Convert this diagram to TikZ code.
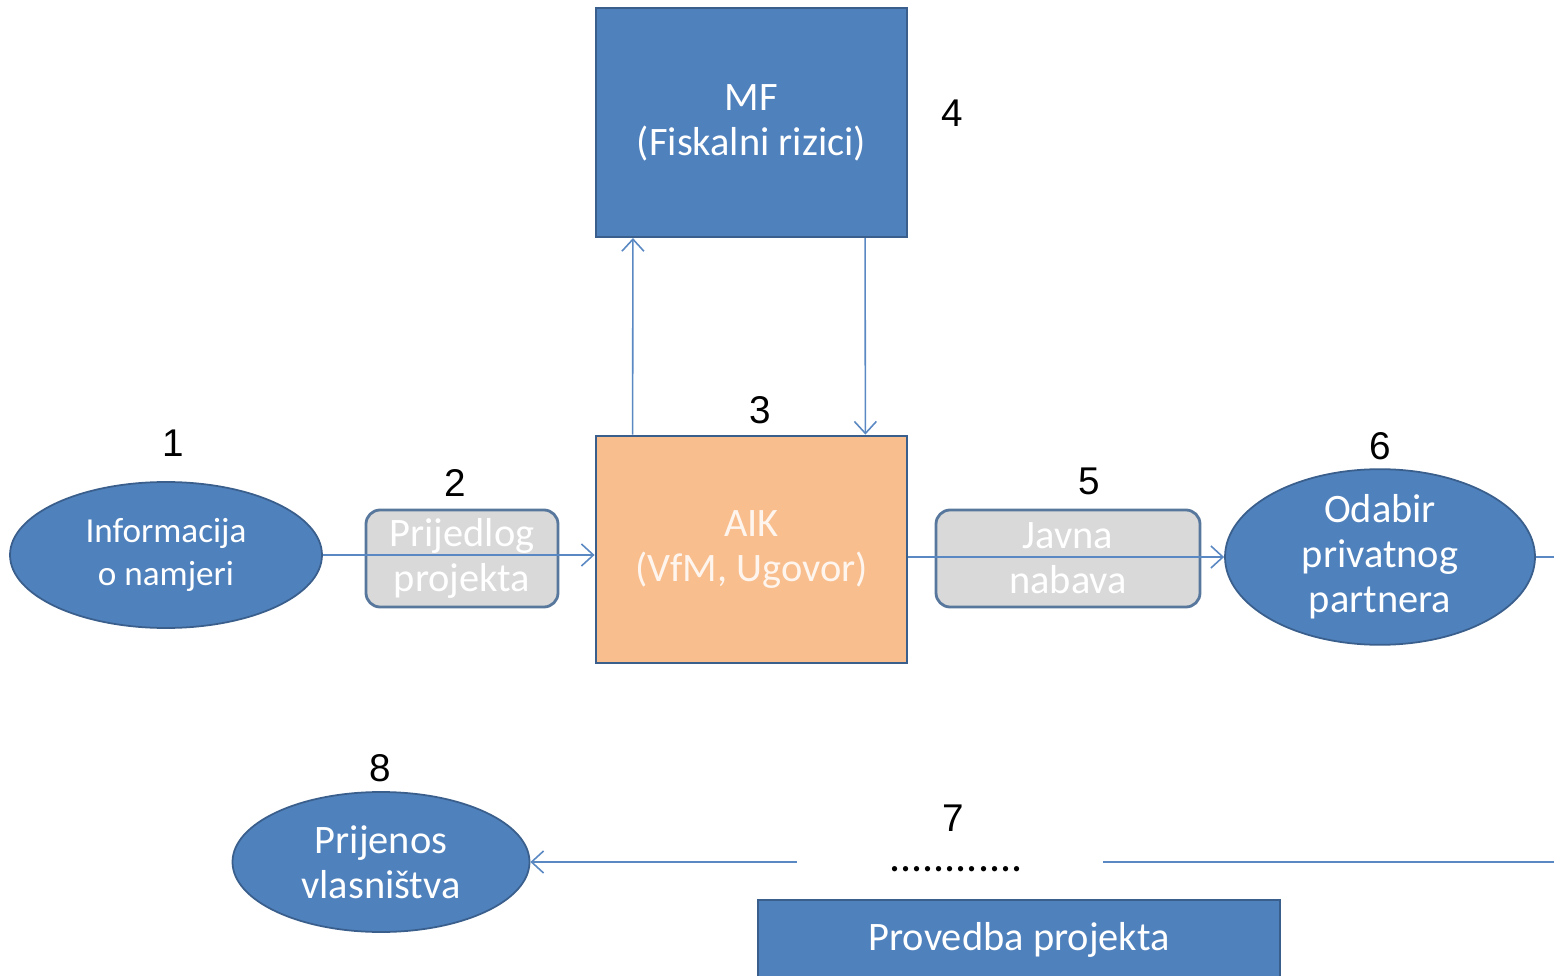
\documentclass[tikz,border=0pt]{standalone}
\usepackage{fontspec}
\setmainfont{Carlito}
\newfontfamily\numfont{Liberation Sans}
\usetikzlibrary{shapes.geometric,arrows.meta}
\definecolor{boxblue}{HTML}{4F81BD}
\definecolor{edgeblue}{HTML}{3A5F8C}
\definecolor{linkblue}{HTML}{5A88C2}
\definecolor{boxorange}{HTML}{F9BE8D}
\definecolor{boxgray}{HTML}{D9D9D9}
\tikzset{
 bluebox/.style={draw=edgeblue,line width=1.2pt,fill=boxblue,text=white,align=center,inner sep=0pt},
 orangebox/.style={draw=edgeblue,line width=1.6pt,fill=boxorange,text=white!85!boxorange,align=center,inner sep=0pt},
 graybox/.style={draw=edgeblue!85!white,line width=1.6pt,fill=boxgray,text=white,rounded corners=8pt,align=center,inner sep=0pt},
 oval/.style={ellipse,draw=edgeblue,line width=1pt,fill=boxblue,text=white,align=center,inner sep=0pt},
 num/.style={font=\numfont\fontsize{22}{24}\selectfont},
 link/.style={draw=linkblue,line width=0.9pt}
}
\begin{document}
\begin{tikzpicture}[>={Straight Barb[length=2.4mm,width=4.4mm]},font=\fontsize{23}{25.5}\selectfont]
 \useasboundingbox (0,0) rectangle (31.08,19.5);
 % boxes
 \node[bluebox,minimum width=6.22cm,minimum height=4.58cm] (mf) at (15.03,17.05) {MF\\(Fiskalni rizici)};
 \node[orangebox,minimum width=6.22cm,minimum height=4.54cm] (aik) at (15.03,8.51) {AIK\\(VfM, Ugovor)};
 \node[oval,minimum width=6.24cm,minimum height=2.92cm,font=\fontsize{20}{24}\selectfont] (info) at (3.32,8.4) {Informacija\\o namjeri};
 \node[graybox,minimum width=3.84cm,minimum height=1.94cm] (prijedlog) at (9.24,8.33) {Prijedlog\\projekta};
 \node[graybox,minimum width=5.28cm,minimum height=1.94cm] (nabava) at (21.36,8.33) {Javna\\nabava};
 \node[oval,minimum width=6.2cm,minimum height=3.34cm] (odabir) at (27.6,8.36) {Odabir\\privatnog\\partnera};
 \node[oval,minimum width=5.94cm,minimum height=2.8cm] (prijenos) at (7.62,2.26) {Prijenos\\vlasni\v{s}tva};
 \node[bluebox,minimum width=10.44cm,minimum height=1.6cm] (provedba) at (20.38,0.7) {Provedba projekta};
 \node[minimum width=6.12cm,inner sep=0pt,font=\fontsize{25}{25}\selectfont] (tocke) at (19.12,2.12) {............};
 \coordinate (rub1) at (31.08,8.36);
 \coordinate (rub2) at (31.08,2.26);
 % numbers
 \node[num] (n1) at (3.46,10.64) {1};
 \node[num] (n2) at (9.1,9.84) {2};
 \node[num] (n3) at (15.2,11.3) {3};
 \node[num] (n4) at (19.04,17.24) {4};
 \node[num] (n5) at (21.78,9.88) {5};
 \node[num] (n6) at (27.6,10.58) {6};
 \node[num] (n7) at (19.06,3.14) {7};
 \node[num] (n8) at (7.6,4.14) {8};
 % links
 \draw[link,->] (info.east) -- (info.east -| aik.west);
 \draw[link,->] (aik.east |- odabir.west) -- (odabir.west);
 \draw[link] (odabir.east) -- (rub1);
 \draw[link,->] ([xshift=0.76cm]aik.north west) -- ([xshift=0.76cm]mf.south west);
 \draw[link,->] ([xshift=-0.86cm]mf.south east) -- ([xshift=-0.86cm]aik.north east);
 \draw[link] (rub2) -- ([xshift=-0.12cm]tocke.east |- rub2);
 \draw[link,->] ([xshift=-0.12cm]tocke.west |- rub2) -- (prijenos.east);
\end{tikzpicture}
\end{document}
